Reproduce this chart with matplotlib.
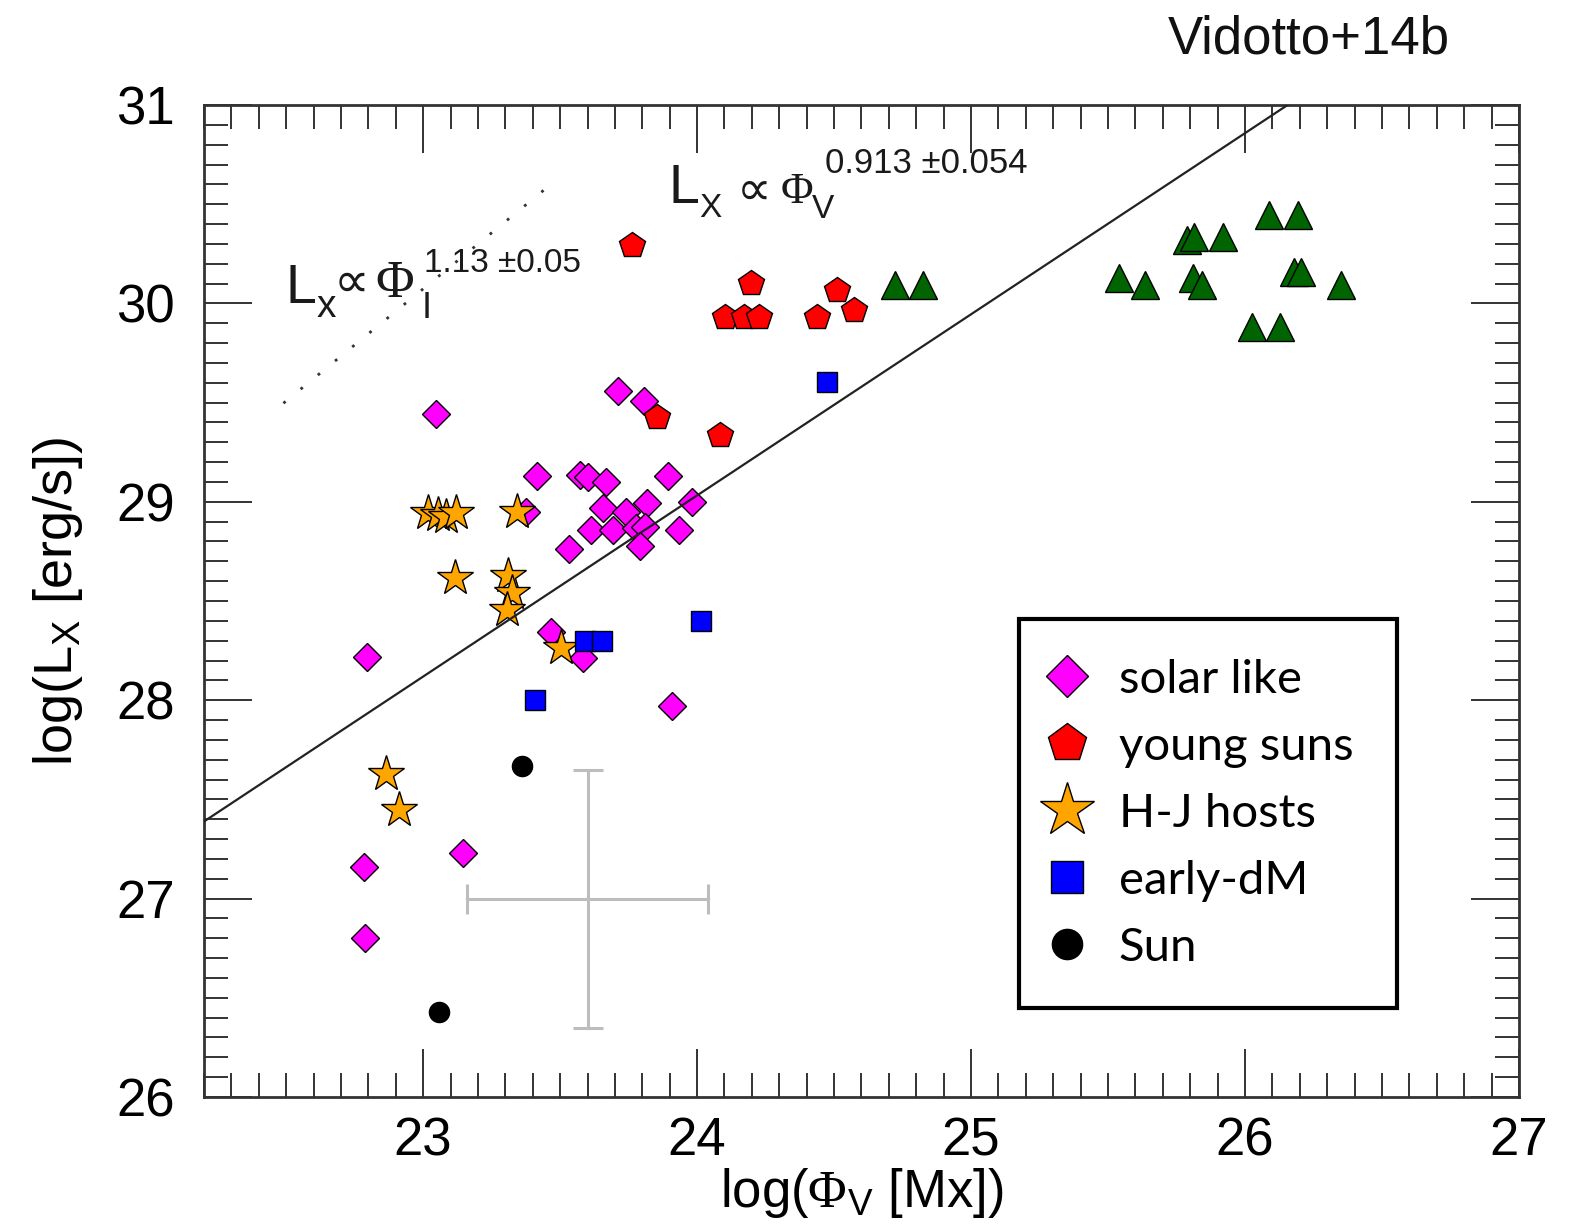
import matplotlib
matplotlib.use("Agg")
import matplotlib.pyplot as plt
from matplotlib.ticker import MultipleLocator
from matplotlib.lines import Line2D
import numpy as np

plt.rcParams.update({
    "font.family": ["Liberation Sans", "DejaVu Sans"],
    "mathtext.fontset": "custom",
    "mathtext.rm": "Liberation Sans",
    "mathtext.it": "Liberation Sans:italic",
    "mathtext.bf": "Liberation Sans:bold",
    "mathtext.sf": "Liberation Serif",
})

# ---- data: log magnetic flux (Mx) and log X-ray luminosity (erg/s) ----
solar_x = [23.047, 22.795, 22.785, 22.788, 23.146, 23.416, 23.710, 23.805,
           23.571, 23.602, 23.668, 23.894, 23.981, 23.655, 23.740, 23.818,
           23.613, 23.693, 23.777, 23.810, 23.792, 23.934, 23.531, 23.466,
           23.584, 23.909, 23.375]
solar_y = [29.441, 28.219, 27.159, 26.801, 27.231, 29.130, 29.558, 29.510,
           29.134, 29.127, 29.102, 29.132, 29.001, 28.971, 28.946, 28.996,
           28.858, 28.858, 28.868, 28.875, 28.779, 28.858, 28.762, 28.346,
           28.213, 27.971, 28.951]

young_x = [23.763, 24.195, 24.102, 24.170, 24.227, 24.439, 24.509, 24.574,
           23.853, 24.085]
young_y = [30.294, 30.102, 29.933, 29.933, 29.933, 29.933, 30.068, 29.967,
           29.429, 29.337]

hj_x = [23.017, 23.056, 23.082, 23.120, 23.343, 23.116, 23.310, 23.323,
        23.306, 23.505, 22.863, 22.912]
hj_y = [28.942, 28.933, 28.925, 28.942, 28.948, 28.618, 28.626, 28.542,
        28.455, 28.262, 27.627, 27.447]

edm_x = [23.408, 23.590, 23.653, 24.014, 24.474]
edm_y = [28.001, 28.298, 28.298, 28.399, 29.604]

sun_x = [23.362, 23.058]
sun_y = [27.668, 26.427]

mdw_x = [24.722, 24.826, 25.539, 25.634, 25.788, 25.813, 25.919, 26.086,
         26.194, 25.810, 25.843, 26.178, 26.203, 26.349, 26.024, 26.128]
mdw_y = [30.093, 30.093, 30.127, 30.093, 30.320, 30.337, 30.337, 30.446,
         30.446, 30.127, 30.093, 30.160, 30.160, 30.093, 29.883, 29.883]

# power-law fits in log-log space
fit_slope, fit_icpt = 0.913, 7.12
pev_slope, pev_icpt = 1.13, 4.083
pev_range = [22.49, 23.49]

# typical uncertainty
err_x, err_y = 23.6, 27.0
err_dx, err_dy = 0.44, 0.65

legend_labels = ["solar like", "young suns", "H-J hosts", "early-dM", "Sun"]

# ---- figure ----
fig = plt.figure(figsize=(15.69, 12.25), dpi=100)
ax = fig.add_axes([0.1300, 0.1045, 0.8381, 0.8098])
ax.set_xlim(22.2, 27)
ax.set_ylim(26, 31)

EDGE = "black"
styles = [
    dict(marker="D", ms=14, mfc="#ff00ff"),
    dict(marker="p", ms=19, mfc="#ff0000"),
    dict(marker="*", ms=27, mfc="#ffa500"),
    dict(marker="s", ms=15, mfc="#0000ff"),
    dict(marker="o", ms=14.5, mfc="#000000"),
]
series = [(solar_x, solar_y), (young_x, young_y), (hj_x, hj_y),
          (edm_x, edm_y), (sun_x, sun_y)]
for (xs, ys), st, z in zip(series, styles, [3, 4, 5, 6, 6]):
    ax.plot(xs, ys, ls="none", mec=EDGE, mew=1.0, zorder=z, **st)
ax.plot(mdw_x, mdw_y, ls="none", marker="^", ms=19.5, mfc="#006400",
        mec=EDGE, mew=1.0, zorder=4)

# error cross
ax.errorbar(err_x, err_y, xerr=err_dx, yerr=err_dy, fmt="none",
            ecolor="#bdbdbd", elinewidth=2.2, capsize=11, capthick=2.2,
            zorder=2)

# fitted relation (solid) and the Phi_I relation (dotted)
xx = np.array(ax.get_xlim())
ax.plot(xx, fit_slope * xx + fit_icpt, color="#222222", lw=1.6, zorder=7)
px = np.array(pev_range)
ax.plot(px, pev_slope * px + pev_icpt, color="#333333", lw=2.0,
        ls=(0, (1, 7)), zorder=7)

# axes styling
for sp in ax.spines.values():
    sp.set_linewidth(2.0)
    sp.set_color("#333333")
ax.xaxis.set_major_locator(MultipleLocator(1))
ax.xaxis.set_minor_locator(MultipleLocator(0.1))
ax.yaxis.set_major_locator(MultipleLocator(1))
ax.yaxis.set_minor_locator(MultipleLocator(0.1))
ax.tick_params(which="both", direction="in", top=True, right=True,
               width=1.4, color="#333333")
ax.tick_params(which="major", length=34.5)
ax.tick_params(which="minor", length=17)
ax.tick_params(axis="x", labelsize=38, pad=14)
ax.tick_params(axis="y", labelsize=38, pad=21)

ax.set_xlabel(r"log($\mathsf{\Phi}_\mathrm{V}$ [Mx])", fontsize=38)
ax.xaxis.set_label_coords(0.5, -0.070)
ax.set_ylabel(r"log(L$_\mathrm{X}$ [erg/s])", fontsize=39, labelpad=22)

# legend
handles = [Line2D([], [], ls="none", mec=EDGE, mew=1.0, **st) for st in styles]
leg = ax.legend(handles, legend_labels, loc="upper left",
                bbox_to_anchor=(0.620, 0.0968, 0.287, 0.385), mode="expand",
                borderaxespad=0,
                prop={"family": ["Lato", "DejaVu Sans"], "size": 34},
                markerscale=1.5, fancybox=False, framealpha=1,
                edgecolor="black", handlelength=0.36, handletextpad=0.91,
                borderpad=0.84, labelspacing=0.53)
leg.get_frame().set_linewidth(3)
leg.set_zorder(10)


def formula(x, y, pieces):
    for text, size, dx, dy, family in pieces:
        ax.annotate(text, xy=(x, y), xycoords="data", xytext=(dx, dy),
                    textcoords="offset pixels", fontsize=size,
                    family=family, ha="left", va="baseline",
                    color="#1a1a1a", zorder=8)


SANS = ["Liberation Sans", "DejaVu Sans"]
SYM = ["DejaVu Sans"]
SERIF = ["Liberation Serif", "DejaVu Serif"]

formula(23.909, 30.506, [
    ("L", 40, -4, 0, SANS),
    ("X", 24, 27, -14, SANS),
    ("\u221d", 35, 65, -2, SYM),
    ("\u03a6", 32, 108, 0, SERIF),
    ("V", 24, 140, -15, SANS),
    ("0.913 \u00b10.054", 25, 153, 30, SANS),
])
formula(22.511, 30.002, [
    ("L", 40, -4, 0, SANS),
    ("x", 28, 27, -14, SANS),
    ("\u221d", 36, 44, 6, SYM),
    ("\u03a6", 38, 86, 6, SERIF),
    ("I", 26, 132, -15, SANS),
    ("1.13 \u00b10.05", 24, 135, 31, SANS),
])

fig.text(1168 / 1569, 1 - 53 / 1225, "Vidotto+14b", fontsize=38,
         family=SANS, ha="left", va="baseline", color="#111111")

fig.savefig("out.png", dpi=100)
